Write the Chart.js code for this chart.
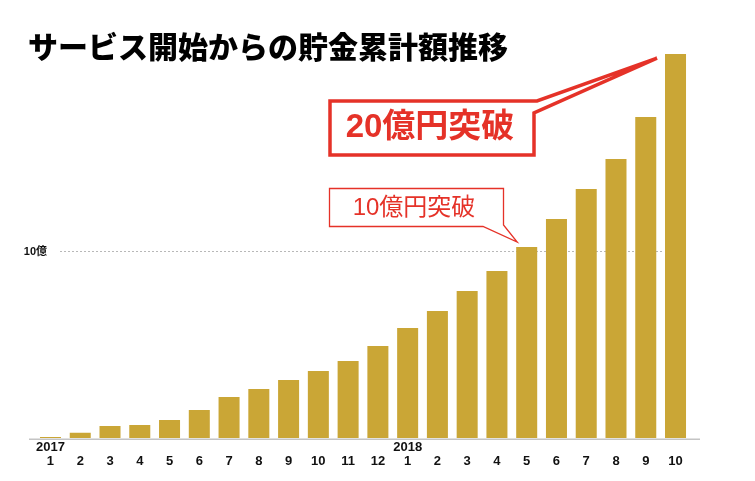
<!DOCTYPE html>
<html lang="ja">
<head>
    <meta charset="UTF-8">
    <title>サービス開始からの貯金累計額推移</title>
    <script src="https://cdn.jsdelivr.net/npm/chart.js"></script>
    <style>
        body {
            margin: 0;
            background: #fff;
        }
        #wrap {
            width: 755px;
            height: 481px;
        }
    </style>
</head>
<body>
    <div id="wrap">
        <canvas id="savingsChart"></canvas>
    </div>

    <script>
        // 月ラベル (2017/1 〜 2018/10)
        const months = ['1', '2', '3', '4', '5', '6', '7', '8', '9', '10', '11', '12',
                        '1', '2', '3', '4', '5', '6', '7', '8', '9', '10'];
        const years = ['2017', '', '', '', '', '', '', '', '', '', '', '',
                       '2018', '', '', '', '', '', '', '', '', ''];
        // 貯金累計額 (億円) - 画像から読み取った概算値
        const savings = [0.05, 0.28, 0.64, 0.70, 0.96, 1.50, 2.19, 2.62, 3.10, 3.58, 4.12, 4.92,
                         5.88, 6.79, 7.86, 8.93, 10.21, 11.71, 13.32, 14.92, 17.17, 20.53];
        const yTickValue = 10;
        const yTickLabel = '10億';

        const RED = '#e53228';
        const GOLD = '#caa636';
        const latin = '"Liberation Sans", "Noto Sans CJK JP", sans-serif';
        const jp = '"Noto Sans CJK JP", sans-serif';

        const labels = months.map((m, i) => [years[i], m]);

        // draw a speech-bubble box with a pointer
        function callout(ctx, pts, width) {
            ctx.save();
            ctx.beginPath();
            pts.forEach((p, i) => i ? ctx.lineTo(p[0], p[1]) : ctx.moveTo(p[0], p[1]));
            ctx.closePath();
            ctx.fillStyle = '#fff';
            ctx.fill();
            ctx.lineWidth = width;
            ctx.lineJoin = 'miter';
            ctx.strokeStyle = RED;
            ctx.stroke();
            ctx.restore();
        }

        const overlay = {
            id: 'overlay',
            beforeDatasetsDraw(chart) {
                const ctx = chart.ctx;
                const y = Math.round(chart.scales.y.getPixelForValue(yTickValue)) + 0.5;
                ctx.save();
                ctx.strokeStyle = '#b8b8b8';
                ctx.lineWidth = 1;
                ctx.setLineDash([2, 2]);
                ctx.beginPath();
                ctx.moveTo(60, y);
                ctx.lineTo(663, y);
                ctx.stroke();
                ctx.setLineDash([]);
                ctx.fillStyle = '#111';
                ctx.font = 'bold 11px ' + latin;
                ctx.textAlign = 'right';
                ctx.textBaseline = 'middle';
                ctx.fillText(yTickLabel, 47, y);
                ctx.restore();
            },
            afterDatasetsDraw(chart) {
                const ctx = chart.ctx;
                const bars = chart.getDatasetMeta(0).data;
                const base = chart.scales.y.getPixelForValue(0);

                // baseline
                ctx.save();
                ctx.strokeStyle = '#c4c4c4';
                ctx.lineWidth = 1.6;
                ctx.beginPath();
                ctx.moveTo(29, base + 1.3);
                ctx.lineTo(700, base + 1.3);
                ctx.stroke();
                ctx.restore();

                // title
                ctx.save();
                ctx.fillStyle = '#000';
                ctx.font = '900 30px ' + jp;
                ctx.textAlign = 'left';
                ctx.textBaseline = 'middle';
                ctx.fillText('サービス開始からの貯金累計額推移', 28, 47);
                ctx.restore();

                // 20億円突破 (points at last bar)
                const last = bars[bars.length - 1];
                const t20 = [last.x - last.width / 2 - 8, last.y + 4];
                callout(ctx, [[330, 101], [537, 101], t20, [534, 113], [534, 155], [330, 155]], 3.5);
                ctx.save();
                ctx.fillStyle = RED;
                ctx.font = 'bold 33px ' + latin;
                ctx.textAlign = 'center';
                ctx.textBaseline = 'middle';
                ctx.fillText('20億円突破', 430, 128);
                ctx.restore();

                // 10億円突破 (points at first bar over 10億)
                const idx = savings.findIndex(v => v >= 10);
                const b = bars[idx];
                const t10 = [b.x - b.width / 2 + 1, b.y - 5];
                callout(ctx, [[329.5, 188.5], [503.5, 188.5], [503.5, 225], t10, [483, 226.5], [329.5, 226.5]], 1.3);
                ctx.save();
                ctx.fillStyle = RED;
                ctx.font = '400 24px ' + latin;
                ctx.textAlign = 'center';
                ctx.textBaseline = 'middle';
                ctx.fillText('10億円突破', 414, 208);
                ctx.restore();
            }
        };

        const ctx = document.getElementById('savingsChart').getContext('2d');
        new Chart(ctx, {
            type: 'bar',
            data: {
                labels: labels,
                datasets: [{
                    data: savings,
                    backgroundColor: GOLD,
                    borderWidth: 0,
                    categoryPercentage: 1.0,
                    barPercentage: 0.706
                }]
            },
            options: {
                responsive: true,
                maintainAspectRatio: false,
                animation: false,
                layout: {
                    padding: { left: 35.6, right: 64.6, top: 45.3, bottom: 0 }
                },
                plugins: {
                    legend: { display: false },
                    tooltip: { enabled: false }
                },
                scales: {
                    x: {
                        grid: { display: false, drawTicks: false },
                        border: { display: false },
                        ticks: {
                            autoSkip: false,
                            maxRotation: 0,
                            padding: 3,
                            color: '#111',
                            font: { family: latin, size: 13, weight: 'bold', lineHeight: 1.05 }
                        },
                        afterFit(scale) { scale.height = 43; }
                    },
                    y: {
                        display: false,
                        min: 0,
                        max: 21
                    }
                }
            },
            plugins: [overlay]
        });
    </script>
</body>
</html>
